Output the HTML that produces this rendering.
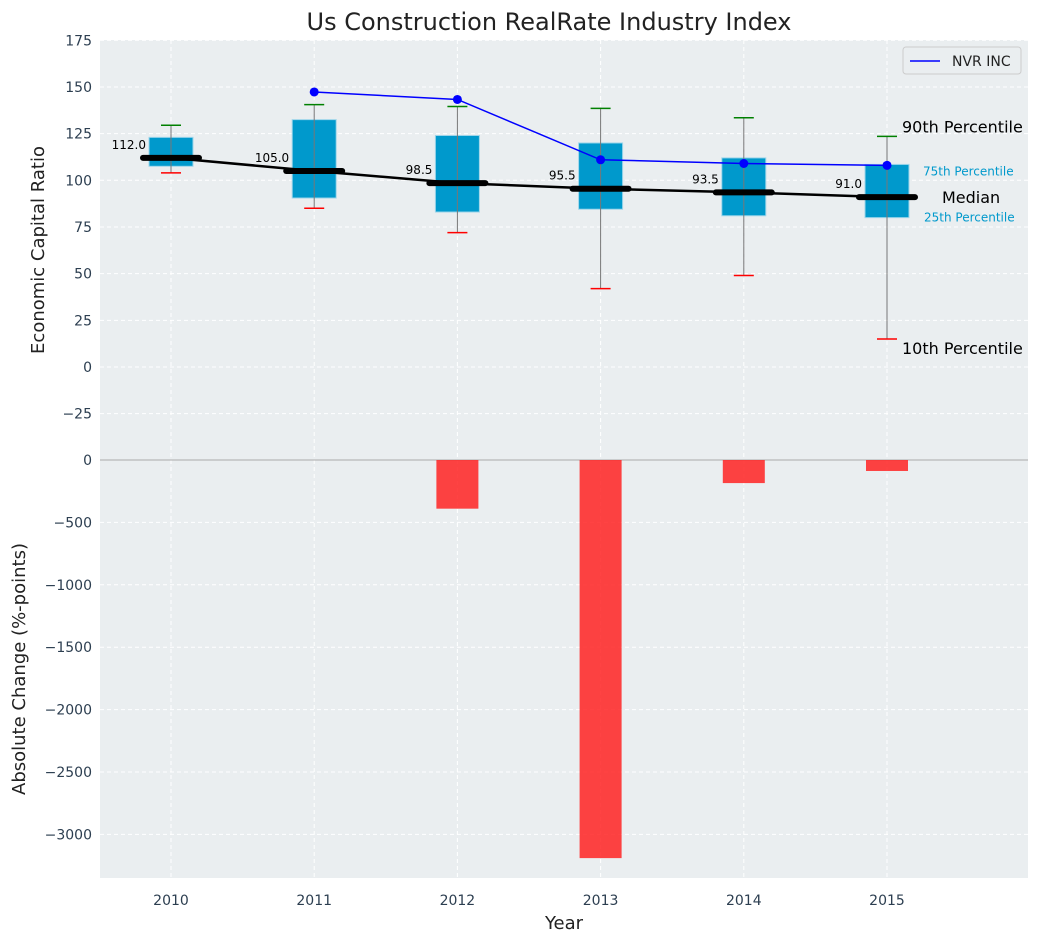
<!DOCTYPE html>
<html><head><meta charset="utf-8"><style>
body{margin:0;background:#fff;font-family:"Liberation Sans","DejaVu Sans",sans-serif}
svg text{font-family:"DejaVu Sans","Liberation Sans",sans-serif}
</style></head><body>
<svg id="c" width="1039" height="942" xmlns="http://www.w3.org/2000/svg"></svg>
<script>
const years=[2010,2011,2012,2013,2014,2015];
const q1=[107.5,90.5,83,84.5,81,80];
const q3=[123,132.5,124,120,112,108.5];
const med=[112,105,98.5,95.5,93.5,91];
const p90=[129.5,140.5,139.5,138.5,133.5,123.5];
const p10=[104,85,72,42,49,15];
const nvrYears=[2011,2012,2013,2014,2015];
const nvr=[147.3,143.3,111,109,108];
const chg=[0,0,-390,-3190,-185,-88];
const topTicks=[175,150,125,100,75,50,25,0,-25];
const botTicks=[0,-500,-1000,-1500,-2000,-2500,-3000];

const NS="http://www.w3.org/2000/svg",svg=document.getElementById('c');
function el(t,a,p){const e=document.createElementNS(NS,t);for(const k in a)e.setAttribute(k,a[k]);(p||svg).appendChild(e);return e;}
const L=100,R=1028,T1=40,B1=460,T2=460,B2=878;
const X=v=>171+(v-2010)*143.2;
const Y1=v=>367-v*1.867;
function y2(v){return 460+(-v)*0.1248;}

let e=el('rect',{x:L,y:T1,width:R-L,height:B1-T1,fill:'#eaeef0'});

e=el('rect',{x:L,y:T2,width:R-L,height:B2-T2,fill:'#eaeef0'});

years.forEach(yr=>{el('line',{x1:X(yr),x2:X(yr),y1:T1,y2:B2,stroke:'#fff','stroke-dasharray':'4,3','stroke-width':1});});
topTicks.forEach(t=>{el('line',{x1:L,x2:R,y1:Y1(t),y2:Y1(t),stroke:'#fff','stroke-dasharray':'4,3'});
 const tx=el('text',{x:92,y:Y1(t)+5,'text-anchor':'end','font-size':14,fill:'#2c3e50'});tx.textContent=t<0?'\u2212'+(-t):t;
 });
botTicks.forEach(t=>{el('line',{x1:L,x2:R,y1:y2(t),y2:y2(t),stroke:t===0?'#aaa':'#fff','stroke-dasharray':t===0?'':'4,3'});
 const tx=el('text',{x:92,y:y2(t)+5,'text-anchor':'end','font-size':14,fill:'#2c3e50'});tx.textContent=t<0?'\u2212'+(-t):t;
 });
years.forEach(yr=>{const tx=el('text',{x:X(yr),y:905,'text-anchor':'middle','font-size':14,fill:'#2c3e50'});tx.textContent=yr;
 });

years.forEach((yr,i)=>{const x=X(yr);
 let r=el('rect',{x:x-22,y:Y1(q3[i]),width:44,height:Y1(q1[i])-Y1(q3[i]),fill:'#0099cc',stroke:'#9fd6ea','stroke-width':1});
 
 el('line',{x1:x,x2:x,y1:Y1(p10[i]),y2:Y1(p90[i]),stroke:'#777','stroke-width':1});
 let g=el('line',{x1:x-10,x2:x+10,y1:Y1(p90[i]),y2:Y1(p90[i]),stroke:'green','stroke-width':1.5});
 
 let rr=el('line',{x1:x-10,x2:x+10,y1:Y1(p10[i]),y2:Y1(p10[i]),stroke:'red','stroke-width':1.5});
 
 const tx=el('text',{x:x-25,y:Y1(med[i])-9,'text-anchor':'end','font-size':12,fill:'#000'});tx.textContent=med[i].toFixed(1);
 
});
let ml=el('polyline',{points:years.map((y,i)=>X(y)+','+Y1(med[i])).join(' '),fill:'none',stroke:'#000','stroke-width':2.5});

years.forEach((yr,i)=>{let m=el('line',{x1:X(yr)-28,x2:X(yr)+28,y1:Y1(med[i]),y2:Y1(med[i]),stroke:'#000','stroke-width':6,'stroke-linecap':'round'});
 });
let nl=el('polyline',{points:nvrYears.map((y,i)=>X(y)+','+Y1(nvr[i])).join(' '),fill:'none',stroke:'blue','stroke-width':1.5});

nvrYears.forEach((y,i)=>{let c=el('circle',{cx:X(y),cy:Y1(nvr[i]),r:4.5,fill:'blue'});
 });
years.forEach((yr,i)=>{if(chg[i]===0)return;let b=el('rect',{x:X(yr)-21,y:460,width:42,height:y2(chg[i])-460,fill:'#ff2222','fill-opacity':0.85});
 });
const ann=[['90th Percentile',902,Y1(p90[5])-4,16,'#000','p90-annotation'],['75th Percentile',923,Y1(q3[5])+11,12,'#0099cc','q3-annotation'],
['Median',942,Y1(med[5])+6,16,'#000','median-annotation'],['25th Percentile',924,Y1(q1[5])+4,12,'#0099cc','q1-annotation'],
['10th Percentile',902,Y1(p10[5])+15,16,'#000','p10-annotation']];
ann.forEach(a=>{const t=el('text',{x:a[1],y:a[2],'font-size':a[3],fill:a[4]});t.textContent=a[0];
 });
let lg=el('g',{});
el('rect',{x:903,y:47,width:118,height:27,rx:3,fill:'#eaeef0',stroke:'#ccc'},lg);
el('line',{x1:910,x2:940,y1:61,y2:61,stroke:'blue','stroke-width':1.5},lg);
let lt=el('text',{x:952,y:66,'font-size':14,fill:'#222'},lg);lt.textContent='NVR INC';
let t=el('text',{x:549,y:30,'text-anchor':'middle','font-size':24,fill:'#222'});t.textContent='Us Construction RealRate Industry Index';

t=el('text',{x:564,y:929,'text-anchor':'middle','font-size':18,fill:'#222'});t.textContent='Year';

t=el('text',{x:0,y:0,'text-anchor':'middle','font-size':18,fill:'#222',transform:'translate(44,250) rotate(-90)'});t.textContent='Economic Capital Ratio';

t=el('text',{x:0,y:0,'text-anchor':'middle','font-size':18,fill:'#222',transform:'translate(25,669) rotate(-90)'});t.textContent='Absolute Change (%-points)';

</script>
</body></html>
